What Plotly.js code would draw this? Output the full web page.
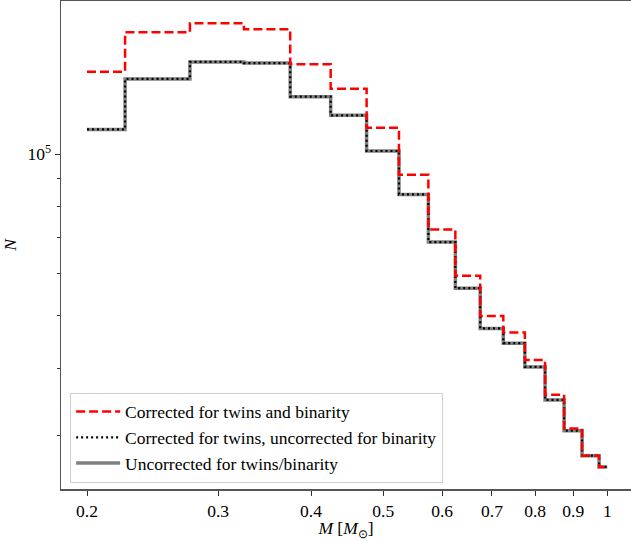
<!DOCTYPE html>
<html>
<head>
<meta charset="utf-8">
<script src="https://cdn.plot.ly/plotly-3.0.1.min.js"></script>
<style>html,body{margin:0;padding:0;background:#fff;}#chart{width:631px;height:541px;}</style>
</head>
<body>
<div id="chart"></div>
<script>
// Bin edges (solar masses)
const binEdges = [0.2, 0.225, 0.275, 0.325, 0.375, 0.425, 0.475, 0.525, 0.575, 0.625, 0.675, 0.725, 0.775, 0.825, 0.875, 0.925, 0.975, 1.0];
// Counts per bin
const correctedBoth = [142200, 168400, 175000, 170500, 146800, 132200, 111900, 91500, 72400, 59400, 50000, 46600, 41400, 35700, 30900, 27500, 26200];
const correctedTwins = [111100, 137900, 148300, 147600, 127800, 118000, 101300, 84100, 68600, 56300, 47400, 44500, 40200, 34900, 30600, 27500, 26200];
const uncorrected = [111100, 137900, 148300, 147600, 127800, 118000, 101300, 84100, 68600, 56300, 47400, 44500, 40200, 34900, 30600, 27500, 26200];

const seriesNames = ["Corrected for twins and binarity", "Corrected for twins, uncorrected for binarity", "Uncorrected for twins/binarity"];
const xTickVals = [0.2, 0.3, 0.4, 0.5, 0.6, 0.7, 0.8, 0.9, 1];
const xTickText = ["0.2", "0.3", "0.4", "0.5", "0.6", "0.7", "0.8", "0.9", "1"];
const yTickVals = [100000];
const yTickText = ["10<sup>5</sup>"];
const yMinorVals = [30000, 40000, 50000, 60000, 70000, 80000, 90000];

function stepY(counts) { return counts.concat([counts[counts.length - 1]]); }

const font = "Liberation Serif, Times New Roman, serif";

const traces = [
  {x: binEdges, y: stepY(uncorrected), mode: "lines", line: {shape: "hv", color: "#808080", width: 3.5}, name: seriesNames[2], legendrank: 3},
  {x: binEdges, y: stepY(correctedTwins), mode: "lines", line: {shape: "hv", color: "#000000", width: 2.2, dash: "2px,3px"}, name: seriesNames[1], legendrank: 2},
  {x: binEdges, y: stepY(correctedBoth), mode: "lines", line: {shape: "hv", color: "#ff0000", width: 2.5, dash: "9px,4px"}, name: seriesNames[0], legendrank: 1}
];

const layout = {
  width: 631, height: 541,
  margin: {l: 61, r: 0, t: 1, b: 52},
  paper_bgcolor: "#fff", plot_bgcolor: "#fff",
  font: {family: font, size: 17, color: "#000"},
  showlegend: true,
  legend: {x: 0.016, y: 0.013, xanchor: "left", yanchor: "bottom", bgcolor: "#fff", bordercolor: "#d0d0d0", borderwidth: 1, font: {family: font, size: 17.5}, itemwidth: 44, tracegroupgap: 0},
  xaxis: {
    type: "log", range: [-0.7339, 0.0319],
    tickmode: "array", tickvals: xTickVals, ticktext: xTickText,
    ticks: "outside", ticklen: 5, tickwidth: 1, tickcolor: "#333",
    showline: true, linecolor: "#555", linewidth: 1.5, mirror: true,
    showgrid: false, zeroline: false,
    tickfont: {family: font, size: 17.5},
    title: {text: "<i>M</i> [<i>M</i><sub>⊙</sub>]", font: {family: font, size: 17.5}, standoff: 0}
  },
  yaxis: {
    type: "log", range: [4.3773, 5.2844],
    tickmode: "array", tickvals: yTickVals, ticktext: yTickText,
    ticks: "outside", ticklen: 5, tickwidth: 1, tickcolor: "#333",
    minor: {tickmode: "array", tickvals: yMinorVals, ticks: "outside", ticklen: 3, tickwidth: 1, tickcolor: "#333", showgrid: false},
    showline: true, linecolor: "#555", linewidth: 1.5, mirror: false,
    showgrid: false, zeroline: false,
    tickfont: {family: font, size: 17.5},
    title: {text: "<i>N</i>", font: {family: font, size: 17.5}, standoff: 12}
  }
};

Plotly.newPlot("chart", traces, layout, {displayModeBar: false, staticPlot: true});
</script>
</body>
</html>
